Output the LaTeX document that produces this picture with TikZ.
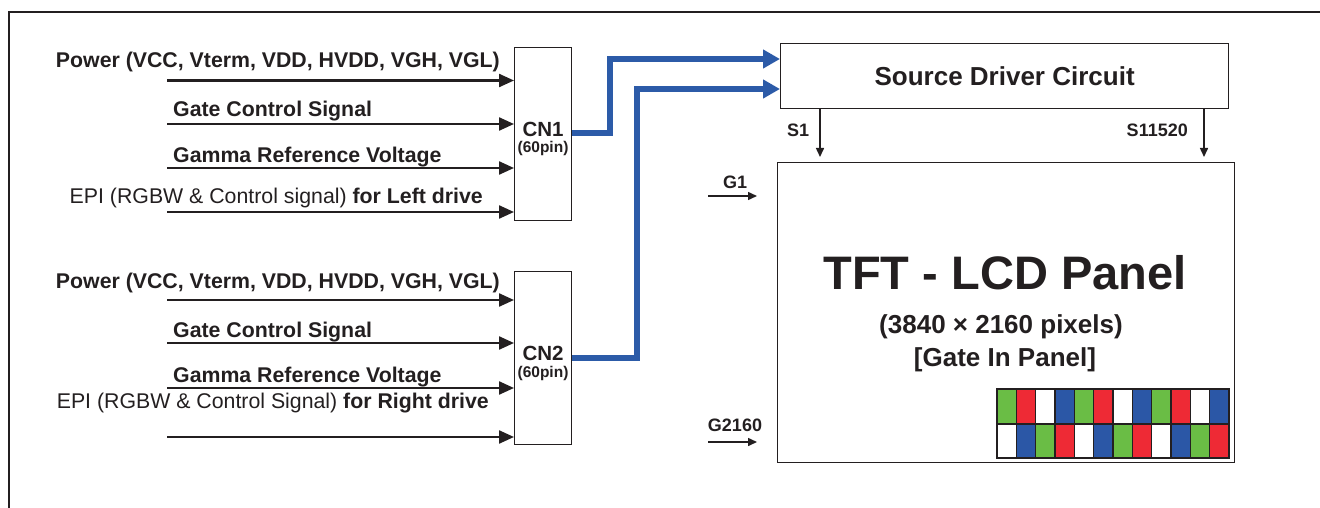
\documentclass[tikz,border=0pt]{standalone}
\usepackage{fontspec}
\setmainfont{Liberation Sans}
\usetikzlibrary{arrows.meta}
\definecolor{ink}{HTML}{231F20}
\definecolor{wire}{HTML}{2C5BA8}
\definecolor{pg}{HTML}{6ABD45}
\definecolor{pr}{HTML}{EE2A35}
\definecolor{pb}{HTML}{2B57A6}
\newcommand\myfs[1]{\fontsize{#1}{#1}\selectfont}
\begin{document}
\begin{tikzpicture}[x=1pt,y=-1pt,
  box/.style={draw=ink, line width=1.3pt, fill=white, inner sep=0pt, anchor=north west},
  lbl/.style={inner sep=0pt, text=ink, font=\myfs{21.3}\bfseries},
  rlbl/.style={inner sep=0pt, text=ink, font=\myfs{21.3}},
  small/.style={inner sep=0pt, text=ink, font=\myfs{18}\bfseries},
  inarrow/.style={draw=ink, line width=2.3pt, -{Triangle[length=15pt,width=13pt]}},
  thin arrow/.style={draw=ink, line width=1.5pt, -{Triangle[length=9pt,width=8pt]}},
  bluearrow/.style={draw=wire, line width=6pt, line join=miter, -{Triangle[length=17pt,width=18pt]}},
  cell/.style={draw=ink, line width=1.4pt}
]
\useasboundingbox (0,0) rectangle (1320,508);
% outer frame
\coordinate (fb) at (9,508);
\coordinate (ft) at (9,12);
\coordinate (fr) at (1320,12);
\draw[ink, line width=2pt] (fb) -- (ft) -- (fr);

% connectors
\node[box, minimum width=57pt, minimum height=173pt] (cn1) at (514,47) {};
\node[box, minimum width=57pt, minimum height=173pt] (cn2) at (514,271) {};
\node[inner sep=0pt, text=ink, font=\myfs{20.5}\bfseries] (cn1t) at (543,129) {CN1};
\node[inner sep=0pt, text=ink, font=\myfs{15.5}\bfseries] (cn1p) at (543,148) {(60pin)};
\node[inner sep=0pt, text=ink, font=\myfs{20.5}\bfseries] (cn2t) at (543,353) {CN2};
\node[inner sep=0pt, text=ink, font=\myfs{15.5}\bfseries] (cn2p) at (543,373) {(60pin)};

% source driver and panel
\node[box, minimum width=448pt, minimum height=65pt, font=\myfs{26}\bfseries, text=ink] (sdc) at (780,43) {Source Driver Circuit};
\node[box, minimum width=457pt, minimum height=300pt] (pnl) at (777,162) {};

% input arrows CN1
\coordinate (a1) at (167,80.5);
\coordinate (a2) at (167,124);
\coordinate (a3) at (167,168);
\coordinate (a4) at (167,212);
\foreach \a in {a1,a2,a3,a4} \draw[inarrow] (\a) -- (\a -| cn1.west);
\node[lbl, anchor=base east] (l1) at (500,68) {Power (VCC, Vterm, VDD, HVDD, VGH, VGL)};
\node[lbl, anchor=base west] (l2) at (173,117) {Gate Control Signal};
\node[lbl, anchor=base west] (l3) at (173,162) {Gamma Reference Voltage};
\node[rlbl, anchor=base east] (l4) at (483,204) {EPI (RGBW \& Control signal) \textbf{for Left drive}};

% input arrows CN2
\coordinate (b1) at (167,300);
\coordinate (b2) at (167,343);
\coordinate (b3) at (167,388);
\coordinate (b4) at (167,437);
\foreach \a in {b1,b2,b3,b4} \draw[inarrow] (\a) -- (\a -| cn2.west);
\node[lbl, anchor=base east] (m1) at (500,288) {Power (VCC, Vterm, VDD, HVDD, VGH, VGL)};
\node[lbl, anchor=base west] (m2) at (173,337) {Gate Control Signal};
\node[lbl, anchor=base west] (m3) at (173,382) {Gamma Reference Voltage};
\node[rlbl, anchor=base east] (m4) at (489,408) {EPI (RGBW \& Control Signal) \textbf{for Right drive}};

% blue buses
\coordinate (k1) at (610,133);
\coordinate (k2) at (610,59);
\draw[bluearrow] (cn1.east |- k1) -- (k1) -- (k2) -- (k2 -| sdc.west);
\coordinate (j1) at (637,358);
\coordinate (j2) at (637,89);
\draw[bluearrow] (cn2.east |- j1) -- (j1) -- (j2) -- (j2 -| sdc.west);

% source lines
\coordinate (s1x) at (820,0);
\coordinate (snx) at (1204,0);
\draw[thin arrow, shorten >=5pt] (sdc.south -| s1x) -- (pnl.north -| s1x);
\draw[thin arrow, shorten >=5pt] (sdc.south -| snx) -- (pnl.north -| snx);
\node[small] (s1) at (798,130) {S1};
\node[small, anchor=east] (sn) at (1188,130) {S11520};

% gate lines
\coordinate (g1s) at (708,196);
\coordinate (g2s) at (708,442);
\draw[thin arrow, shorten >=20pt] (g1s) -- (g1s -| pnl.west);
\draw[thin arrow, shorten >=20pt] (g2s) -- (g2s -| pnl.west);
\node[small] (g1) at (735,182) {G1};
\node[small] (g2) at (735,425) {G2160};

% panel texts
\node[inner sep=0pt, text=ink, font=\myfs{47}\bfseries] (tft) at (1005,273) {TFT - LCD Panel};
\node[inner sep=0pt, text=ink, font=\myfs{26}\bfseries] (res) at (1001,327) {(3840 × 2160 pixels)};
\node[inner sep=0pt, text=ink, font=\myfs{26}\bfseries] (gip) at (1005,360) {[Gate In Panel]};

% pixel grid
\foreach \c [count=\i from 0] in {pg,pr,white,pb,pg,pr,white,pb,pg,pr,white,pb}
  \draw[cell, fill=\c] ({997+\i*19.333},389) rectangle ++(19.333,35);
\foreach \c [count=\i from 0] in {white,pb,pg,pr,white,pb,pg,pr,white,pb,pg,pr}
  \draw[cell, fill=\c] ({997+\i*19.333},424) rectangle ++(19.333,34);
\end{tikzpicture}
\end{document}
